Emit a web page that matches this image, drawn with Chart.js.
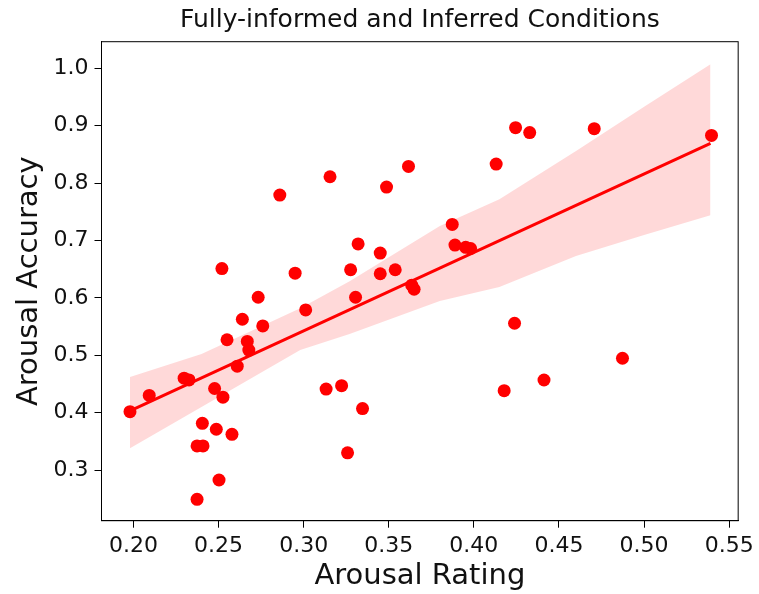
<!DOCTYPE html>
<html>
<head>
<meta charset="utf-8">
<script src="https://cdn.jsdelivr.net/npm/chart.js@4.4.1/dist/chart.umd.min.js"></script>
<style>
  html, body { margin: 0; padding: 0; background: #fff; }
  #wrap { width: 759px; height: 594px; }
</style>
</head>
<body>
<div id="wrap"><canvas id="chart" width="759" height="594"></canvas></div>
<script>
// data
const ratingX = [
    0.252, 0.286, 0.3155, 0.3487, 0.3616, 0.295, 0.332, 0.345, 0.3276, 0.345, 0.3538,
    0.4245, 0.4328, 0.4707, 0.5396, 0.4131, 0.3873, 0.3889, 0.3952, 0.3981,
    0.2733, 0.264, 0.276, 0.3012, 0.3305, 0.3635, 0.3649, 0.255, 0.2669, 0.2678,
    0.261, 0.2298, 0.2327, 0.2093, 0.198, 0.2477, 0.2526, 0.2405, 0.2487, 0.2579,
    0.2374, 0.2409, 0.2503, 0.2374, 0.3132, 0.3223, 0.3346, 0.3258,
    0.4239, 0.4873, 0.4412, 0.4178
];
const accuracyY = [
    0.651, 0.779, 0.811, 0.793, 0.829, 0.643, 0.694, 0.678, 0.649, 0.642, 0.649,
    0.8965, 0.888, 0.8948, 0.883, 0.833, 0.728, 0.692, 0.688, 0.686,
    0.601, 0.5627, 0.551, 0.579, 0.601, 0.622, 0.615, 0.527, 0.524, 0.509,
    0.481, 0.460, 0.457, 0.430, 0.4016, 0.442, 0.427, 0.3814, 0.371, 0.3622,
    0.342, 0.342, 0.2826, 0.249, 0.441, 0.447, 0.407, 0.330,
    0.5557, 0.4947, 0.4569, 0.4382
];

// regression line and its confidence band
const fitX = [0.198, 0.539];
const fitY = [0.403, 0.869];
const bandX = [0.198, 0.24, 0.298, 0.327, 0.38, 0.415, 0.46, 0.50, 0.539];
const bandUpper = [0.462, 0.502, 0.582, 0.629, 0.725, 0.772, 0.856, 0.933, 1.007];
const bandLower = [0.338, 0.410, 0.509, 0.537, 0.5945, 0.619, 0.673, 0.7095, 0.744];

const xTicks = [0.20, 0.25, 0.30, 0.35, 0.40, 0.45, 0.50, 0.55];
const yTicks = [0.3, 0.4, 0.5, 0.6, 0.7, 0.8, 0.9, 1.0];

const toPoints = (xs, ys) => xs.map((x, i) => ({ x: x, y: ys[i] }));

const fontFamily = "'DejaVu Sans', sans-serif";
const textColor = "#111";

// matplotlib-style box around the axes
const frame = {
    id: "frame",
    afterDraw(chart) {
        const { ctx, chartArea: a } = chart;
        ctx.save();
        ctx.strokeStyle = "#000";
        ctx.lineWidth = 1;
        ctx.strokeRect(a.left, a.top, a.right - a.left, a.bottom - a.top);
        ctx.restore();
    }
};

new Chart(document.getElementById("chart"), {
    type: "scatter",
    data: {
        datasets: [
            {
                data: toPoints(fitX, fitY),
                showLine: true,
                borderColor: "#ff0000",
                borderWidth: 3,
                pointRadius: 0,
                order: 0
            },
            {
                data: toPoints(ratingX, accuracyY),
                backgroundColor: "#ff0000",
                borderColor: "#ff0000",
                borderWidth: 0,
                pointRadius: 6.5,
                order: 1
            },
            {
                data: toPoints(bandX, bandUpper),
                showLine: true,
                borderWidth: 0,
                borderColor: "rgba(0,0,0,0)",
                pointRadius: 0,
                fill: "+1",
                backgroundColor: "rgba(255,0,0,0.15)",
                order: 2
            },
            {
                data: toPoints(bandX, bandLower),
                showLine: true,
                borderWidth: 0,
                borderColor: "rgba(0,0,0,0)",
                pointRadius: 0,
                order: 3
            }
        ]
    },
    options: {
        responsive: false,
        animation: false,
        layout: { padding: { left: 0, right: 19, top: 0, bottom: 0 } },
        plugins: {
            legend: { display: false },
            tooltip: { enabled: false },
            title: {
                display: true,
                fullSize: false,
                text: "Fully-informed and Inferred Conditions",
                color: textColor,
                font: { family: fontFamily, size: 25, weight: "normal", lineHeight: 1.1 },
                padding: { top: 7, bottom: 7.2 }
            }
        },
        scales: {
            x: {
                type: "linear",
                min: 0.18126,
                max: 0.55526,
                afterFit: s => { s.height = 73.3; },
                afterBuildTicks: s => { s.ticks = xTicks.map(v => ({ value: v })); },
                grid: {
                    drawOnChartArea: false,
                    drawTicks: true,
                    tickLength: 7,
                    tickColor: "#000"
                },
                border: { display: true, color: "#000" },
                ticks: {
                    color: textColor,
                    padding: 5,
                    maxRotation: 0,
                    font: { family: fontFamily, size: 22 },
                    callback: v => v.toFixed(2)
                },
                title: {
                    display: true,
                    text: "Arousal Rating",
                    color: textColor,
                    font: { family: fontFamily, size: 29 },
                    padding: { top: 0, bottom: 0 }
                }
            },
            y: {
                type: "linear",
                min: 0.2117,
                max: 1.0463,
                afterFit: s => { s.width = 101.5; },
                afterBuildTicks: s => { s.ticks = yTicks.map(v => ({ value: v })); },
                grid: {
                    drawOnChartArea: false,
                    drawTicks: true,
                    tickLength: 7,
                    tickColor: "#000"
                },
                border: { display: true, color: "#000" },
                ticks: {
                    color: textColor,
                    padding: 6,
                    font: { family: fontFamily, size: 22 },
                    callback: v => v.toFixed(1)
                },
                title: {
                    display: true,
                    text: "Arousal Accuracy",
                    color: textColor,
                    font: { family: fontFamily, size: 29 },
                    padding: { top: 12, bottom: 0 }
                }
            }
        }
    },
    plugins: [frame]
});
</script>
</body>
</html>
